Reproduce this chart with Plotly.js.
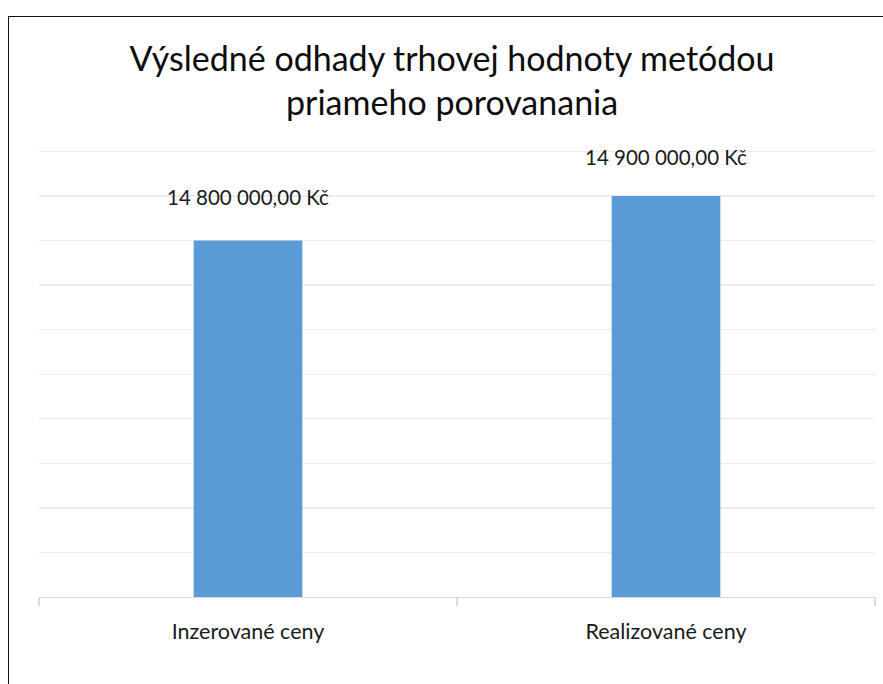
<!DOCTYPE html>
<html>
<head>
<meta charset="utf-8">
<script src="https://cdn.plot.ly/plotly-3.0.1.min.js"></script>
<style>
  html, body { margin: 0; padding: 0; background: #fff; }
  #wrap { position: relative; width: 883px; height: 684px; overflow: hidden; }
  #frame { position: absolute; left: 8px; top: 16px; width: 900px; height: 700px;
           border-left: 1.3px solid #111; border-top: 1.3px solid #111; pointer-events: none; z-index: 5; }
  #chart { position: absolute; left: 0; top: 0; width: 883px; height: 684px; }
</style>
</head>
<body>
<div id="wrap">
  <div id="chart"></div>
  <div id="frame"></div>
</div>
<script>
const categories = ["Inzerované ceny", "Realizované ceny"];
const values = [14800000, 14900000];
const chartTitle = "Výsledné odhady trhovej hodnoty metódou<br>priameho porovanania";

function fmt(v) {
  const parts = v.toFixed(2).split(".");
  const intPart = parts[0].replace(/\B(?=(\d{3})+(?!\d))/g, " ");
  return intPart + "," + parts[1] + " Kč";
}

const FONT = "Lato, 'Open Sans', sans-serif";
const labelShift = [44, 39];

const trace = {
  type: "bar",
  x: categories,
  y: values,
  marker: { color: "#5b9bd5" },
  hoverinfo: "skip"
};

const annotations = categories.map((c, i) => ({
  x: c, y: values[i], xref: "x", yref: "y",
  text: fmt(values[i]),
  showarrow: false,
  yanchor: "middle",
  yshift: labelShift[i],
  font: { family: FONT, size: 20.5, color: "#1a1a1a" }
}));

const layout = {
  width: 883, height: 684,
  margin: { l: 39, r: 8, t: 147, b: 87 },
  paper_bgcolor: "#ffffff",
  plot_bgcolor: "#ffffff",
  font: { family: FONT, color: "#404040" },
  title: {
    text: chartTitle,
    font: { family: FONT, size: 34, color: "#0d0d0d" },
    x: 0.512, xanchor: "center",
    y: 1 - 71 / 684, yanchor: "top", yref: "container"
  },
  bargap: 0.74,
  showlegend: false,
  xaxis: {
    type: "category",
    showline: true, linecolor: "#d9d9d9", linewidth: 1.3,
    ticks: "outside", tickson: "boundaries", ticklen: 8, tickcolor: "#d9d9d9", tickwidth: 1.3,
    showgrid: false,
    tickfont: { family: FONT, size: 21.5, color: "#1a1a1a" },
    ticklabelstandoff: 15
  },
  yaxis: {
    range: [14000000, 15010000],
    dtick: 100000, tick0: 14000000,
    showticklabels: false,
    showgrid: true, gridcolor: "#ececec", gridwidth: 1.3,
    zeroline: false, showline: false, ticks: ""
  },
  annotations: annotations
};

Plotly.newPlot("chart", [trace], layout, { displayModeBar: false, staticPlot: true });
</script>
</body>
</html>
